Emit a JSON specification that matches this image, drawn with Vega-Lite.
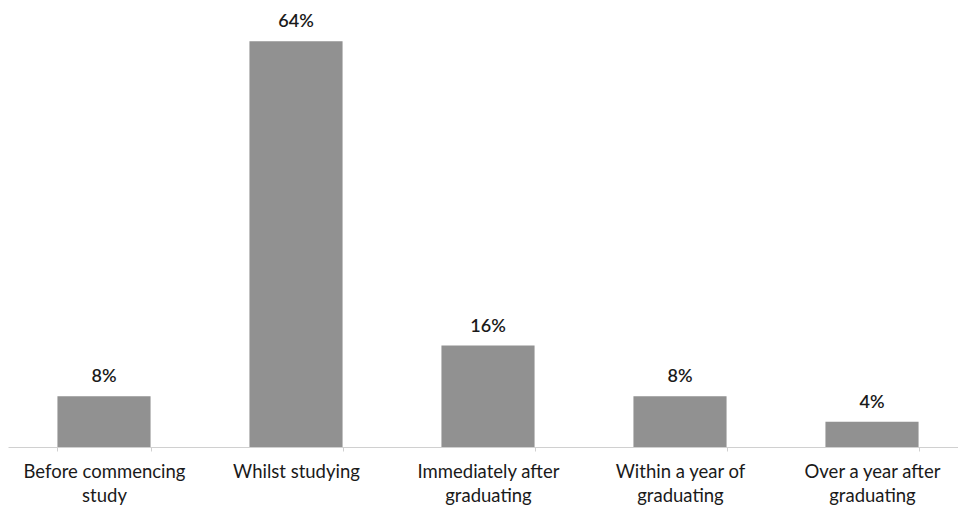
{
  "$schema": "https://vega.github.io/schema/vega-lite/v6.json",
  "autosize": "none",
  "width": 960,
  "height": 447,
  "padding": {"left": 8, "top": 0, "right": 0, "bottom": 62},
  "background": "white",
  "config": {"view": {"stroke": null}, "font": "Lato"},
  "data": {"values": [
    {"category": "Before commencing study", "pct": 0.08},
    {"category": "Whilst studying", "pct": 0.64},
    {"category": "Immediately after graduating", "pct": 0.16},
    {"category": "Within a year of graduating", "pct": 0.08},
    {"category": "Over a year after graduating", "pct": 0.04}
  ]},
  "encoding": {
    "x": {"field": "category", "type": "nominal", "sort": null,
      "scale": {"paddingInner": 0.515, "paddingOuter": 0.2575},
      "axis": {"title": null, "labelAngle": 0, "domainColor": "#d0d0d0", "tickColor": "#d0d0d0", "tickSize": 4, "tickBand": "extent",
        "labelFont": "Lato", "labelFontSize": 18.5, "labelColor": "#1a1a1a", "labelPadding": 11, "labelBaseline": "top", "labelLineHeight": 24,
        "labelExpr": "{'Before commencing study':['Before commencing','study'],'Immediately after graduating':['Immediately after','graduating'],'Within a year of graduating':['Within a year of','graduating'],'Over a year after graduating':['Over a year after','graduating']}[datum.label] || datum.label"}},
    "y": {"field": "pct", "type": "quantitative", "scale": {"domain": [0, 0.705]}, "axis": null}
  },
  "layer": [
    {"mark": {"type": "bar", "color": "#919191"}},
    {"mark": {"type": "text", "dy": -19, "font": "Lato", "fontSize": 18, "fontWeight": 600, "color": "#1a1a1a"},
     "encoding": {"text": {"field": "pct", "type": "quantitative", "format": ".0%"}}}
  ]
}
